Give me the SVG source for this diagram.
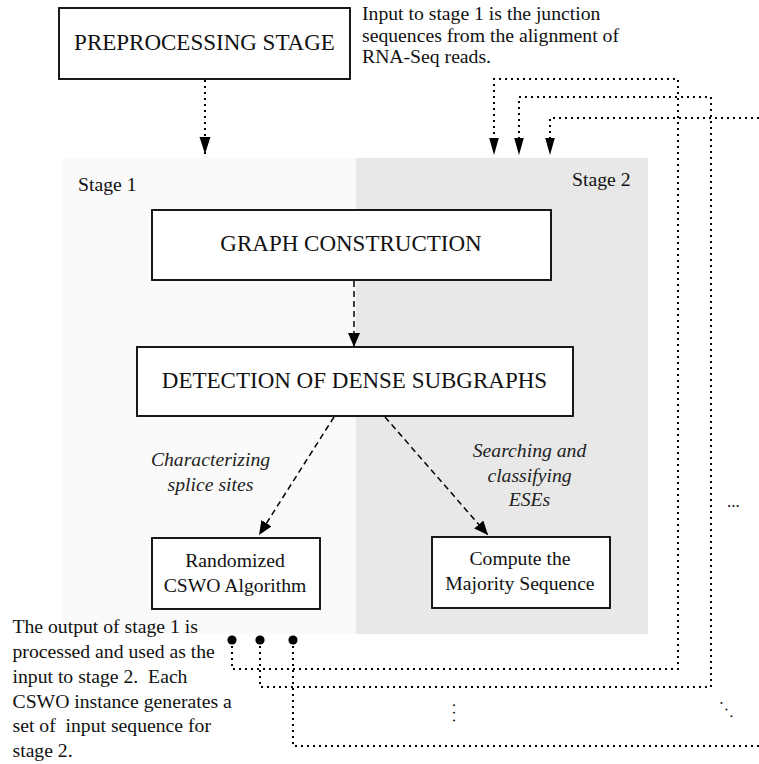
<svg xmlns="http://www.w3.org/2000/svg" width="759" height="764" viewBox="0 0 759 764">
  <style>
    .txt { font-family: "Liberation Serif", "Times New Roman", serif; fill: #111; }
    .body { font-size: 19.7px; }
    .big { font-size: 23px; }
    .it { font-size: 19.7px; font-style: italic; fill: #222; }
    .pre { white-space: pre; }
    .box { fill: #fff; stroke: #000; stroke-width: 1.8; }
    .dotted { fill: none; stroke: #000; stroke-width: 2; stroke-dasharray: 2 4; }
    .dashed { fill: none; stroke: #000; stroke-width: 1.5; stroke-dasharray: 6 4; }
  </style>
  <defs>
    <marker id="head" markerUnits="userSpaceOnUse" markerWidth="14" markerHeight="12" refX="14" refY="6" orient="auto">
      <path d="M0,0 L14,6 L0,12 z" fill="#000"/>
    </marker>
    <marker id="headLong" markerUnits="userSpaceOnUse" markerWidth="17" markerHeight="12" refX="17" refY="6" orient="auto">
      <path d="M0,0.5 L17,6 L0,11.5 z" fill="#000"/>
    </marker>
    <marker id="headSlim" markerUnits="userSpaceOnUse" markerWidth="17" markerHeight="10" refX="17" refY="5" orient="auto">
      <path d="M0,0.2 L17,5 L0,9.8 z" fill="#000"/>
    </marker>
    <marker id="dot" markerUnits="userSpaceOnUse" markerWidth="10" markerHeight="10" refX="5" refY="5">
      <circle cx="5" cy="5" r="4.6" fill="#000"/>
    </marker>
  </defs>

  <!-- stage panels -->
  <g id="stage1">
    <rect x="63" y="158" width="293" height="476" fill="#fafafa"/>
    <text class="txt body" x="78" y="191">Stage 1</text>
  </g>
  <g id="stage2">
    <rect x="356" y="158" width="292" height="476" fill="#e8e8e8"/>
    <text class="txt body" x="572" y="186">Stage 2</text>
  </g>

  <!-- connectors -->
  <g id="connectors">
    <path class="dotted" d="M205,80 V154" marker-end="url(#headLong)"/>
    <path class="dashed" d="M354,281 V347" marker-end="url(#head)"/>
    <path class="dashed" d="M334,417 L259,535" marker-end="url(#head)"/>
    <path class="dashed" d="M385,417 L488,535" marker-end="url(#head)"/>
    <!-- feedback loops from stage 1 outputs back into stage 2 -->
    <path class="dotted" d="M232,640 V669 H678 V79 H494 V155" marker-start="url(#dot)" marker-end="url(#headSlim)"/>
    <path class="dotted" d="M260,640 V687 H711 V97 H519 V155" marker-start="url(#dot)" marker-end="url(#headSlim)"/>
    <path class="dotted" d="M293,640 V746 H759" marker-start="url(#dot)"/>
    <path class="dotted" d="M759,118 H550 V155" marker-end="url(#headSlim)"/>
  </g>

  <!-- nodes -->
  <g id="preprocessing">
    <rect class="box" x="59" y="8" width="291" height="71"/>
    <text class="txt big" x="204.5" y="50" text-anchor="middle">PREPROCESSING STAGE</text>
  </g>
  <g id="graph-construction">
    <rect class="box" x="152" y="210" width="399" height="70"/>
    <text class="txt big" x="351" y="251" text-anchor="middle">GRAPH CONSTRUCTION</text>
  </g>
  <g id="dense-subgraphs">
    <rect class="box" x="137" y="347" width="436" height="69"/>
    <text class="txt big" x="354.5" y="388" text-anchor="middle">DETECTION OF DENSE SUBGRAPHS</text>
  </g>
  <g id="cswo">
    <rect class="box" x="152" y="538" width="168" height="71"/>
    <text class="txt body" x="235" y="566.5" text-anchor="middle">Randomized</text>
    <text class="txt body" x="235" y="591.5" text-anchor="middle">CSWO Algorithm</text>
  </g>
  <g id="majority">
    <rect class="box" x="432" y="537" width="178" height="71"/>
    <text class="txt body" x="520" y="565" text-anchor="middle">Compute the</text>
    <text class="txt body" x="520" y="590" text-anchor="middle">Majority Sequence</text>
  </g>

  <!-- edge labels -->
  <g id="labels">
    <text class="txt it" x="210.5" y="466" text-anchor="middle">Characterizing</text>
    <text class="txt it" x="210.5" y="490.5" text-anchor="middle">splice sites</text>
    <text class="txt it" x="529.5" y="457" text-anchor="middle">Searching and</text>
    <text class="txt it" x="529.5" y="481.5" text-anchor="middle">classifying</text>
    <text class="txt it" x="529.5" y="506" text-anchor="middle">ESEs</text>
  </g>

  <!-- notes -->
  <g id="note-input">
    <text class="txt body" x="362" y="20">Input to stage 1 is the junction</text>
    <text class="txt body" x="362" y="41.5">sequences from the alignment of</text>
    <text class="txt body" x="362" y="63">RNA-Seq reads.</text>
  </g>
  <g id="note-output">
    <text class="txt body" x="12.5" y="633">The output of stage 1 is</text>
    <text class="txt body" x="12.5" y="658">processed and used as the</text>
    <text class="txt body pre" x="12.5" y="683">input to stage 2.  Each</text>
    <text class="txt body" x="12.5" y="707.5">CSWO instance generates a</text>
    <text class="txt body pre" x="12.5" y="732">set of  input sequence for</text>
    <text class="txt body" x="12.5" y="757">stage 2.</text>
  </g>

  <!-- ellipses for further instances -->
  <g id="more">
    <text class="txt" font-size="17" x="727" y="506.5">...</text>
    <text class="txt" font-size="17" letter-spacing="3.4" x="0" y="0" transform="translate(452.8,702.9) rotate(90)">...</text>
    <text class="txt" font-size="17" letter-spacing="4" x="0" y="0" transform="translate(719.5,701.7) rotate(53)">...</text>
  </g>
</svg>
